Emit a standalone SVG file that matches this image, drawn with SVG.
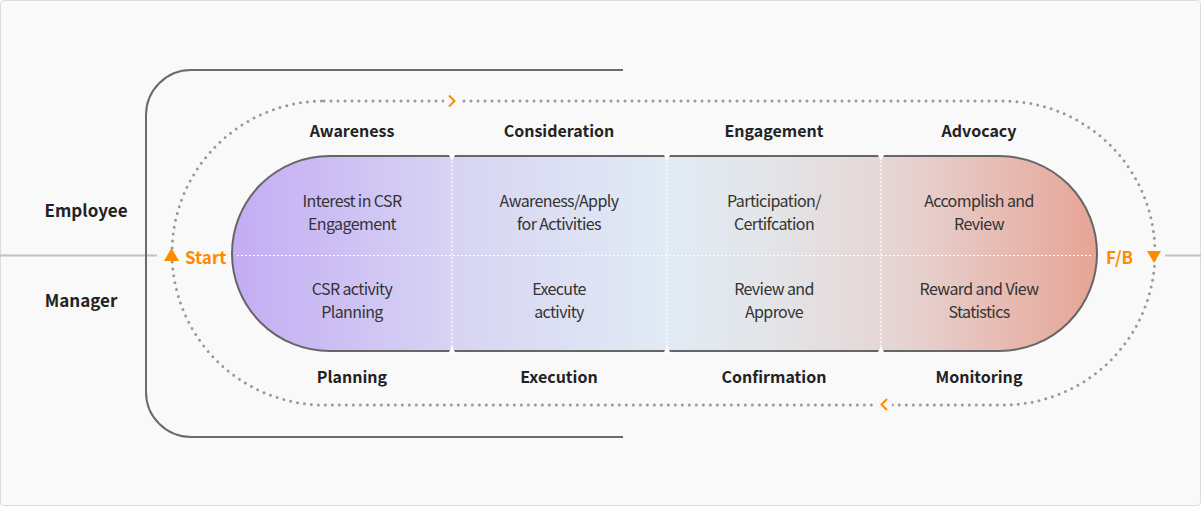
<svg xmlns="http://www.w3.org/2000/svg" width="1201" height="506" viewBox="0 0 1201 506">
<defs>
<linearGradient id="pg" x1="232" y1="0" x2="1097" y2="0" gradientUnits="userSpaceOnUse">
<stop offset="0" stop-color="#c3acf4"/>
<stop offset="0.25" stop-color="#d7d3f3"/>
<stop offset="0.5" stop-color="#e1ebf4"/>
<stop offset="0.62" stop-color="#e3e5e9"/>
<stop offset="0.78" stop-color="#e6d3d1"/>
<stop offset="1" stop-color="#e7a495"/>
</linearGradient>
<style>
text{font-family:"Noto Sans CJK KR","Noto Sans",sans-serif;}
.stage{font-size:16px;font-weight:bold;fill:#222;text-anchor:middle;}
.role{font-size:17px;font-weight:bold;fill:#222;text-anchor:middle;}
.cell{font-size:16px;fill:#333;text-anchor:middle;letter-spacing:-0.6px;}
.or{fill:#ff8a00;}
.ot{font-size:17px;font-weight:bold;fill:#ff8a00;}
.div{stroke:#fff;stroke-width:1.2;stroke-dasharray:2 2;fill:none;}
.dots{fill:none;stroke:#999;stroke-width:3;stroke-linecap:round;stroke-dasharray:0 7;}
.chev{fill:none;stroke:#ff8a00;stroke-width:2;}
</style>
</defs>
<rect x="0.5" y="0.5" width="1200" height="505" rx="3" fill="#f9f9f9" stroke="#dcdcdc"/>
<g id="connectors">
<line x1="0" y1="255.5" x2="157" y2="255.5" stroke="#c2c2c2" stroke-width="2"/>
<line x1="1165" y1="255.5" x2="1201" y2="255.5" stroke="#c2c2c2" stroke-width="2"/>
<path d="M623,70 H191 A45,45 0 0 0 146,115 V392 A45,45 0 0 0 191,437 H623" fill="none" stroke="#6b6b6b" stroke-width="2"/>
<path class="dots" d="M324,101 H1003 A152,152 0 0 1 1003,405 H324 A152,152 0 0 1 324,101 Z"/>
<rect x="444" y="94" width="16" height="14" fill="#f9f9f9"/>
<path class="chev" d="M449,95.5 L454.5,101 L449,106.5"/>
<rect x="876" y="398" width="16" height="14" fill="#f9f9f9"/>
<path class="chev" d="M887,399 L881.5,404.5 L887,410"/>
</g>
<g id="pill">
<rect x="232" y="156" width="865" height="195" rx="97.5" fill="url(#pg)" stroke="#666" stroke-width="2"/>
<line class="div" x1="237" y1="255.5" x2="1092" y2="255.5"/>
<line class="div" x1="452" y1="157" x2="452" y2="350"/>
<line class="div" x1="667" y1="157" x2="667" y2="350"/>
<line class="div" x1="881" y1="157" x2="881" y2="350"/>
<path fill="#fff" d="M448.5,154 H455.5 L452,161 Z M663.5,154 H670.5 L667,161 Z M877.5,154 H884.5 L881,161 Z M448.5,353 H455.5 L452,346 Z M663.5,353 H670.5 L667,346 Z M877.5,353 H884.5 L881,346 Z"/>
</g>
<g id="roles">
<text class="role" x="86" y="217">Employee</text>
<text class="role" x="81" y="307">Manager</text>
</g>
<g id="start">
<path class="or" d="M164,261 L171.5,248 L179,261 Z"/>
<text class="ot" x="185" y="264">Start</text>
</g>
<g id="fb">
<path class="or" d="M1147,251 L1161,251 L1154,263 Z"/>
<text class="ot" x="1106" y="264">F/B</text>
</g>
<g id="awareness">
<text class="stage" x="352" y="137">Awareness</text>
<text class="cell" x="352" y="207">Interest in CSR</text>
<text class="cell" x="352" y="230">Engagement</text>
</g>
<g id="consideration">
<text class="stage" x="559" y="137">Consideration</text>
<text class="cell" x="559" y="207">Awareness/Apply</text>
<text class="cell" x="559" y="230">for Activities</text>
</g>
<g id="engagement">
<text class="stage" x="774" y="137">Engagement</text>
<text class="cell" x="774" y="207">Participation/</text>
<text class="cell" x="774" y="230">Certifcation</text>
</g>
<g id="advocacy">
<text class="stage" x="979" y="137">Advocacy</text>
<text class="cell" x="979" y="207">Accomplish and</text>
<text class="cell" x="979" y="230">Review</text>
</g>
<g id="planning">
<text class="cell" x="352" y="295">CSR activity</text>
<text class="cell" x="352" y="318">Planning</text>
<text class="stage" x="352" y="383">Planning</text>
</g>
<g id="execution">
<text class="cell" x="559" y="295">Execute</text>
<text class="cell" x="559" y="318">activity</text>
<text class="stage" x="559" y="383">Execution</text>
</g>
<g id="confirmation">
<text class="cell" x="774" y="295">Review and</text>
<text class="cell" x="774" y="318">Approve</text>
<text class="stage" x="774" y="383">Confirmation</text>
</g>
<g id="monitoring">
<text class="cell" x="979" y="295">Reward and View</text>
<text class="cell" x="979" y="318">Statistics</text>
<text class="stage" x="979" y="383">Monitoring</text>
</g>
</svg>
